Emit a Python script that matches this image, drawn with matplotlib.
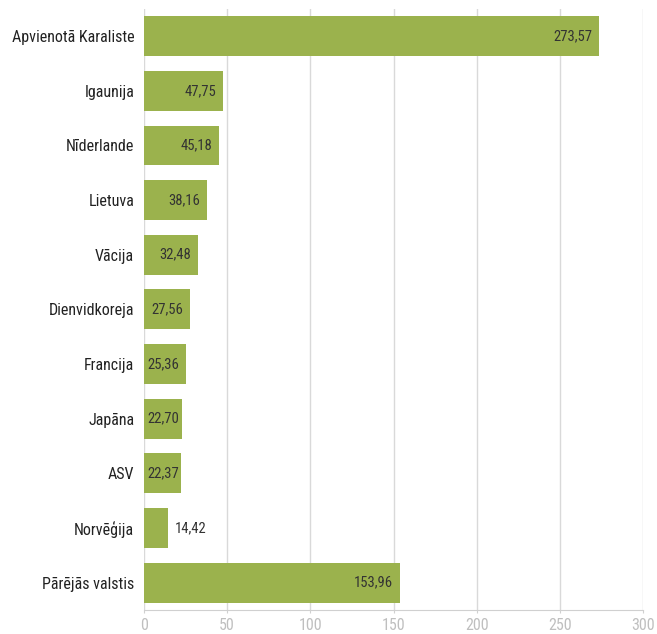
import matplotlib
matplotlib.use("Agg")
import matplotlib.pyplot as plt
from matplotlib import font_manager

countries = ["Apvienotā Karaliste", "Igaunija", "Nīderlande", "Lietuva", "Vācija",
             "Dienvidkoreja", "Francija", "Japāna", "ASV", "Norvēģija", "Pārējās valstis"]
values = [273.57, 47.75, 45.18, 38.16, 32.48, 27.56, 25.36, 22.70, 22.37, 14.42, 153.96]
xticks = [0, 50, 100, 150, 200, 250, 300]

names = {f.name for f in font_manager.fontManager.ttflist}
fam = "Roboto Condensed" if "Roboto Condensed" in names else ("Liberation Sans Narrow" if "Liberation Sans Narrow" in names else "Roboto")
plt.rcParams['font.family'] = [fam, 'DejaVu Sans']

green = "#9bb24d"
fig = plt.figure(figsize=(6.57, 6.34), dpi=100)
ax = fig.add_axes([0.219, 0.038, 0.76, 0.948])

ypos = list(range(len(countries)))
ax.barh(ypos, values, height=0.73, color=green, zorder=3)

# value labels: inside the bar end, outside when the bar is too short
for y, v in zip(ypos, values):
    txt = f"{v:.2f}".replace(".", ",")
    if v > 20:
        ax.text(max(v - 4.2, 21.2), y, txt, ha="right", va="center", fontsize=10.5, color="#333333", zorder=4)
    else:
        ax.text(v + 4.2, y, txt, ha="left", va="center", fontsize=10.5, color="#333333", zorder=4)

ax.set_xlim(0, 300)
ax.set_ylim(10.5, -0.5)
ax.set_yticks(ypos)
ax.set_yticklabels(countries, fontsize=11.5, color="#222222")
ax.set_xticks(xticks)
ax.set_xticklabels([str(t) for t in xticks], fontsize=11.5, color="#bfbfbf")
ax.tick_params(axis="y", length=0, pad=7)
ax.tick_params(axis="x", length=2, color="#d0d0d0", pad=4)
ax.grid(axis="x", color="#d9d9d9", linewidth=1, zorder=0)
for s in ["top", "right", "left"]:
    ax.spines[s].set_visible(False)
ax.spines["bottom"].set_color("#d0d0d0")

fig.savefig("out.png", dpi=100)
